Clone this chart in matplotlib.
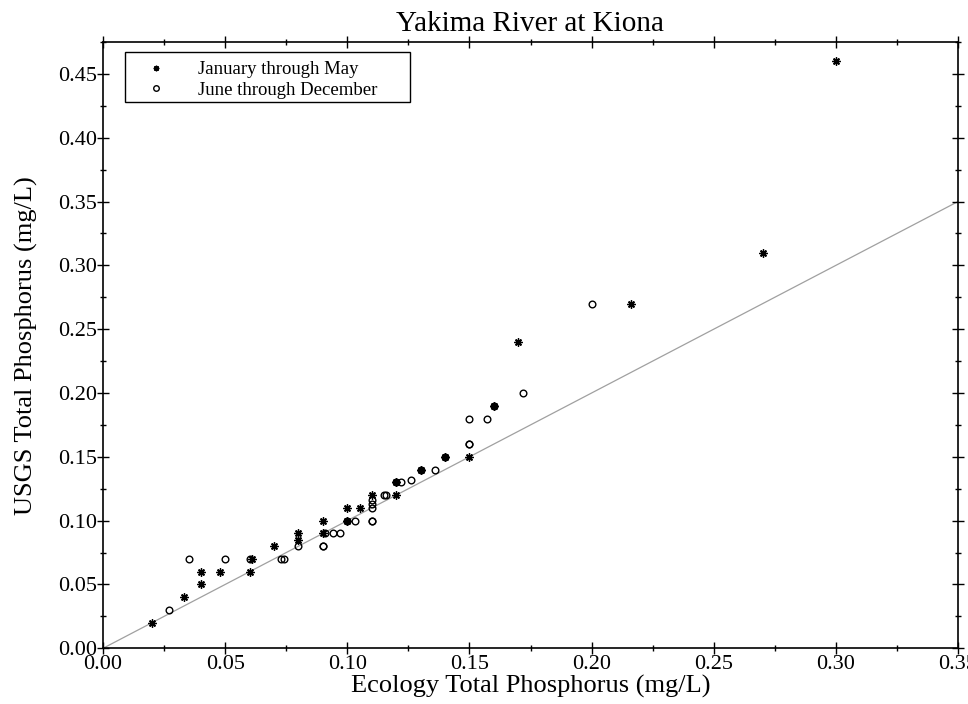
import matplotlib
matplotlib.use("Agg")
import matplotlib.pyplot as plt
from matplotlib.ticker import MultipleLocator, FormatStrFormatter
from matplotlib.patches import Rectangle

plt.rcParams['font.family'] = ['Liberation Serif', 'DejaVu Serif']

title = "Yakima River at Kiona"
xlabel = "Ecology Total Phosphorus (mg/L)"
ylabel = "USGS Total Phosphorus (mg/L)"
series_names = ["January through May", "June through December"]

# January through May (asterisks)
jan_may_x = [0.020, 0.033, 0.040, 0.040, 0.048, 0.060, 0.061, 0.070, 0.080, 0.080,
             0.090, 0.090, 0.100, 0.100, 0.105, 0.110, 0.120, 0.120, 0.130, 0.140,
             0.150, 0.160, 0.170, 0.216, 0.270, 0.300]
jan_may_y = [0.020, 0.040, 0.050, 0.060, 0.060, 0.060, 0.070, 0.080, 0.085, 0.090,
             0.090, 0.100, 0.100, 0.110, 0.110, 0.120, 0.120, 0.130, 0.140, 0.150,
             0.150, 0.190, 0.240, 0.270, 0.310, 0.460]

# June through December (open circles)
jun_dec_x = [0.027, 0.035, 0.050, 0.060, 0.073, 0.074, 0.080, 0.090, 0.090, 0.091,
             0.094, 0.097, 0.100, 0.103, 0.110, 0.110, 0.110, 0.110, 0.110, 0.115,
             0.116, 0.120, 0.122, 0.126, 0.130, 0.136, 0.140, 0.150, 0.150, 0.150,
             0.157, 0.160, 0.172, 0.200]
jun_dec_y = [0.030, 0.070, 0.070, 0.070, 0.070, 0.070, 0.080, 0.080, 0.080, 0.090,
             0.090, 0.090, 0.100, 0.100, 0.100, 0.100, 0.110, 0.113, 0.116, 0.120,
             0.120, 0.130, 0.130, 0.132, 0.140, 0.140, 0.150, 0.160, 0.160, 0.180,
             0.180, 0.190, 0.200, 0.270]

# 1:1 reference line
line_x = [0.0, 0.35]
line_y = [0.0, 0.35]

fig = plt.figure(figsize=(9.68, 7.04), dpi=100)
ax = fig.add_axes([103/968, (704-648.3)/704, (958-103)/968, (648.3-42)/704])

ax.plot(line_x, line_y, color='#a0a0a0', lw=0.9, zorder=1)
ax.plot(jun_dec_x, jun_dec_y, linestyle='none', marker='o', ms=4.8,
        mfc='none', mec='black', mew=1.0, label=series_names[1], zorder=2)
ax.plot(jan_may_x, jan_may_y, linestyle='none', marker=(8, 2, 0), ms=5.8,
        color='black', mew=1.0, label=series_names[0], zorder=3)

ax.set_xlim(0, 0.35)
ax.set_ylim(0, 0.475)
ax.xaxis.set_major_locator(MultipleLocator(0.05))
ax.xaxis.set_minor_locator(MultipleLocator(0.025))
ax.yaxis.set_major_locator(MultipleLocator(0.05))
ax.yaxis.set_minor_locator(MultipleLocator(0.025))
ax.xaxis.set_major_formatter(FormatStrFormatter('%.2f'))
ax.yaxis.set_major_formatter(FormatStrFormatter('%.2f'))

ax.tick_params(which='major', direction='inout', length=9, width=1.0,
               top=True, right=True, labelsize=16, pad=0, colors='black')
ax.tick_params(which='minor', direction='inout', length=5, width=1.0,
               top=True, right=True)
for s in ax.spines.values():
    s.set_linewidth(1.2)

ax.set_title(title, fontsize=21, pad=8)
ax.set_xlabel(xlabel, fontsize=19, labelpad=1)
ax.set_ylabel(ylabel, fontsize=19, labelpad=14)

# legend frame drawn separately to match the reference's padding
ax.add_patch(Rectangle((0.0257, 0.901), 0.333, 0.0825, transform=ax.transAxes,
                       facecolor='white', edgecolor='black', lw=1.0, zorder=4))
handles, labels = ax.get_legend_handles_labels()
leg = ax.legend(handles[::-1], labels[::-1], loc='upper left',
                bbox_to_anchor=(0.045, 0.978), borderaxespad=0,
                fontsize=13.5, frameon=False,
                handlelength=1.0, handletextpad=1.7, borderpad=0.3,
                labelspacing=0.2)
leg.set_zorder(5)
for h in leg.legend_handles:
    h.set_markersize(4)

fig.savefig("out.png", dpi=100)
